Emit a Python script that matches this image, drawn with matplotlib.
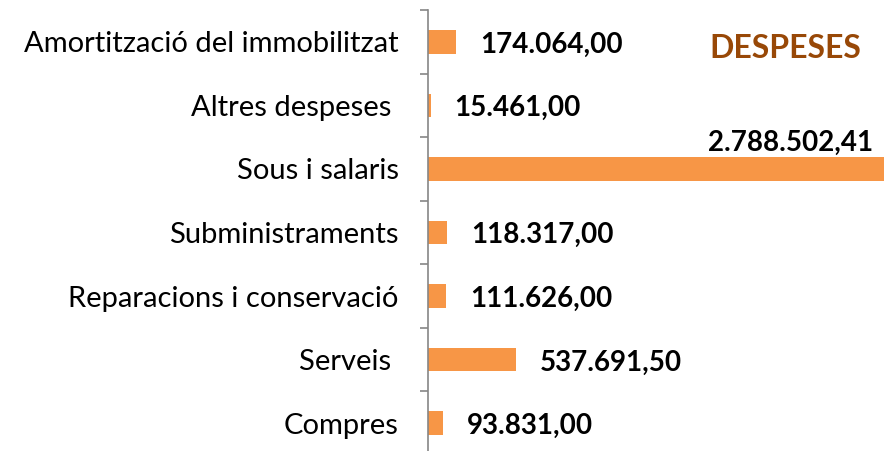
import matplotlib
matplotlib.use('Agg')
import matplotlib.pyplot as plt
import numpy as np

# Data (top to bottom as shown)
categories = ['Amortització del immobilitzat', 'Altres despeses ', 'Sous i salaris',
              'Subministraments', 'Reparacions i conservació', 'Serveis ', 'Compres']
values = [174064.00, 15461.00, 2788502.41, 118317.00, 111626.00, 537691.50, 93831.00]
value_labels = ['174.064,00', '15.461,00', '2.788.502,41', '118.317,00',
                '111.626,00', '537.691,50', '93.831,00']

BAR_COLOR = '#F79646'
TITLE_COLOR = '#984807'
FONT = 'Lato'

W, H = 884, 451
fig = plt.figure(figsize=(W / 100, H / 100), dpi=100)
ax = fig.add_axes([428 / W, -4 / H, 1 - 428 / W, (455 - 10) / H])

y = np.arange(len(categories))[::-1]
ax.barh(y, values, height=0.37, color=BAR_COLOR)

ax.set_ylim(-0.5, len(categories) - 0.5)
ax.set_xlim(0, max(values))

for yi, v, lab in zip(y, values, value_labels):
    if v == max(values):
        ax.annotate(lab, (v, yi), xytext=(-8, 19), textcoords='offset points',
                    ha='right', va='center', fontsize=20, fontweight='bold',
                    family=FONT, color='black')
    else:
        ax.annotate(lab, (v, yi), xytext=(17, -2), textcoords='offset points',
                    ha='left', va='center', fontsize=20, fontweight='bold',
                    family=FONT, color='black')

ax.set_yticks(y)
ax.set_yticklabels(categories, fontsize=21, family=FONT)
ax.tick_params(axis='y', which='major', length=0, pad=21)
ax.set_yticks(np.arange(-0.5, len(categories), 1), minor=True)
ax.tick_params(axis='y', which='minor', length=6, width=1.2, color='#868686')
ax.set_xticks([])

for s in ['top', 'right', 'bottom']:
    ax.spines[s].set_visible(False)
ax.spines['left'].set_color('#868686')
ax.spines['left'].set_linewidth(1.2)

fig.text(785 / W, 1 - 48 / H, 'DESPESES', ha='center', va='center',
         fontsize=23, fontweight='bold', color=TITLE_COLOR, family=FONT)

fig.savefig('out.png', dpi=100)
